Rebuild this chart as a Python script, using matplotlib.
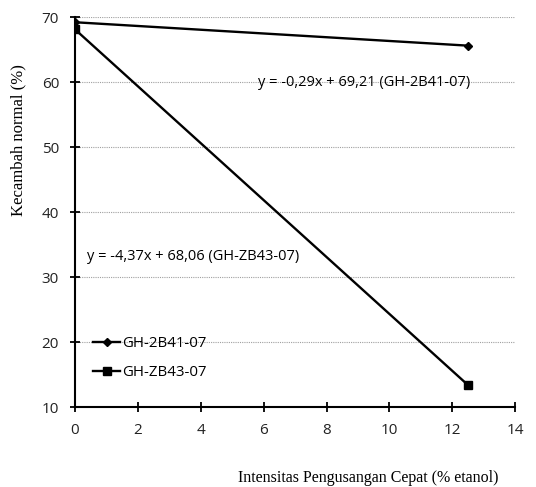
import matplotlib
matplotlib.use("Agg")
import matplotlib.pyplot as plt

# Data
x_vals = [0, 12.5]
gh_2b41 = [69.2, 65.6]
gh_zb43 = [68.1, 13.4]
series_names = ["GH-2B41-07", "GH-ZB43-07"]
x_ticks = [0, 2, 4, 6, 8, 10, 12, 14]
y_ticks = [10, 20, 30, 40, 50, 60, 70]

fig = plt.figure(figsize=(5.36, 4.87), dpi=100)
ax = fig.add_axes([0.14, 0.164, 0.821, 0.801])

# Gridlines
for yv in y_ticks[1:]:
    ax.axhline(yv, color="#a0a0a0", lw=0.8, ls=(0, (1, 1)), zorder=0)

ax.plot(x_vals, gh_2b41, color="black", lw=1.7, marker="D", ms=4.5, label=series_names[0])
ax.plot(x_vals, gh_zb43, color="black", lw=1.7, marker="s", ms=6, label=series_names[1])

ax.set_xlim(0, 14)
ax.set_ylim(10, 70)
ax.set_xticks(x_ticks)
ax.set_yticks(y_ticks)
for sp in ["top", "right"]:
    ax.spines[sp].set_visible(False)
ax.spines["left"].set_linewidth(1.5)
ax.spines["bottom"].set_linewidth(1.5)
ax.tick_params(direction="inout", length=7, width=1.3, labelsize=11, pad=8)
for lbl in ax.get_xticklabels() + ax.get_yticklabels():
    lbl.set_fontfamily("Open Sans")
    lbl.set_color("#222222")

ax.set_xlabel("Intensitas Pengusangan Cepat (% etanol)", family="Liberation Serif",
              fontsize=11.5)
ax.xaxis.set_label_coords(0.666, -0.16)
ax.set_ylabel("Kecambah normal (%)", family="Liberation Serif", fontsize=12)
ax.yaxis.set_label_coords(-0.11, 0.685)

ax.text(5.82, 60.0, "y = -0,29x + 69,21 (GH-2B41-07)", family="Open Sans",
        fontsize=10.5, va="center")
ax.text(0.38, 33.2, "y = -4,37x + 68,06 (GH-ZB43-07)", family="Open Sans",
        fontsize=10.5, va="center")

leg = ax.legend(loc="center left", bbox_to_anchor=(0.041, 0.126), frameon=False,
                handlelength=1.8, handletextpad=0.15,
                prop={"family": "Open Sans", "size": 10.8},
                labelspacing=0.95, borderpad=0, borderaxespad=0)

fig.savefig("out.png", dpi=100)
